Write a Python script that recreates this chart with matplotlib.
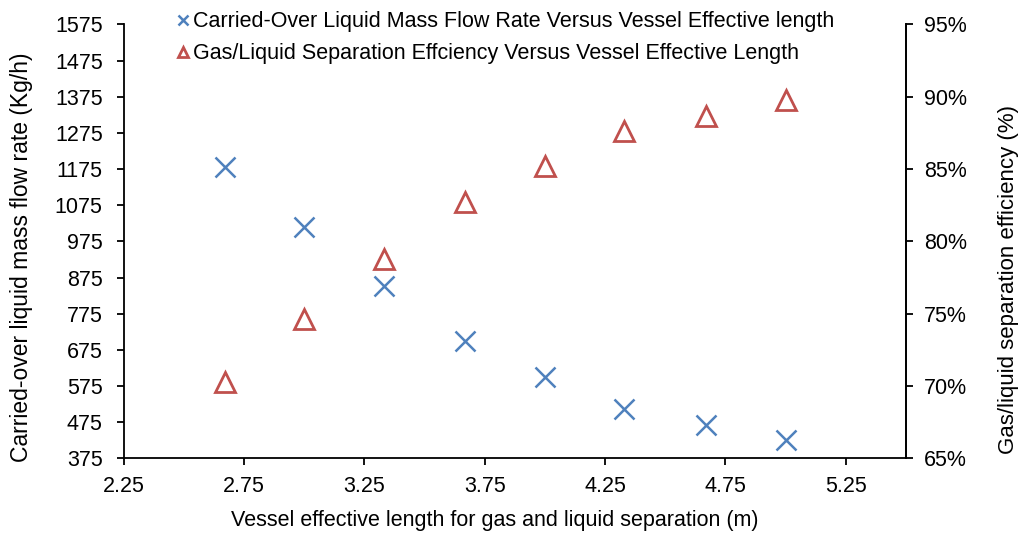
import matplotlib.pyplot as plt
from matplotlib.ticker import FuncFormatter

# 数据
length = [2.67, 3.00, 3.33, 3.67, 4.00, 4.33, 4.67, 5.00]  # 容器有效长度 (m)
carried_over = [1182, 1016, 852, 700, 601, 510, 467, 426]  # 携带液体质量流量 (Kg/h)
efficiency = [70.3, 74.6, 78.75, 82.7, 85.2, 87.6, 88.7, 89.8]  # 分离效率 (%)

x_ticks = [2.25, 2.75, 3.25, 3.75, 4.25, 4.75, 5.25]
left_ticks = [375, 475, 575, 675, 775, 875, 975, 1075, 1175, 1275, 1375, 1475, 1575]
right_ticks = [65, 70, 75, 80, 85, 90, 95]

blue = '#4F81BD'
red = '#C0504D'

plt.rcParams['font.family'] = ['Liberation Sans', 'DejaVu Sans']
plt.rcParams['font.size'] = 15.5

fig = plt.figure(figsize=(10.2, 5.36), dpi=100)
ax = fig.add_axes([0.1211, 0.145, 0.7671, 0.8093])
ax2 = ax.twinx()

# 绘制散点
ax.plot(length, carried_over, linestyle='none', marker='x', color=blue,
        markersize=14, markeredgewidth=1.8,
        label='Carried-Over Liquid Mass Flow Rate Versus Vessel Effective length')
ax2.plot(length, efficiency, linestyle='none', marker='^', color=red,
         markerfacecolor='none', markersize=14, markeredgewidth=2,
         label='Gas/Liquid Separation Effciency Versus Vessel Effective Length')

ax.set_xlim(2.25, 5.5)
ax.set_xticks(x_ticks)
ax.set_xticklabels(['%.2f' % t for t in x_ticks])
ax.set_ylim(375, 1575)
ax.set_yticks(left_ticks)
ax2.set_ylim(65, 95)
ax2.set_yticks(right_ticks)
ax2.yaxis.set_major_formatter(FuncFormatter(lambda v, p: '%d%%' % v))

for a in (ax, ax2):
    a.spines['top'].set_visible(False)
    for s in a.spines.values():
        s.set_linewidth(1.3)
    a.tick_params(direction='out', length=5, width=1.3, colors='black', labelsize=15.5)
ax.tick_params(axis='x', pad=8)
ax.tick_params(axis='y', pad=10)
ax2.tick_params(axis='y', pad=8)
ax2.spines['left'].set_visible(False)
ax2.spines['bottom'].set_visible(False)

# 坐标轴标题
ax.set_xlabel('Vessel effective length for gas and liquid separation (m)', labelpad=9)
ax.xaxis.label.set_x(0.475)
ax.set_ylabel('Carried-over liquid mass flow rate (Kg/h)', labelpad=16, fontsize=16.5)
ax.yaxis.label.set_y(0.464)
ax2.set_ylabel('Gas/liquid separation efficiency (%)', labelpad=22, fontsize=16)
ax2.yaxis.label.set_y(0.413)

# 图例
h1, l1 = ax.get_legend_handles_labels()
h2, l2 = ax2.get_legend_handles_labels()
fig.legend(h1 + h2, l1 + l2, loc='upper left', bbox_to_anchor=(0.155, 1.015),
           frameon=False, markerscale=0.55, handlelength=0.5, handletextpad=0.2,
           labelspacing=0.5, fontsize=15.5)

fig.savefig('out.png', dpi=100)
